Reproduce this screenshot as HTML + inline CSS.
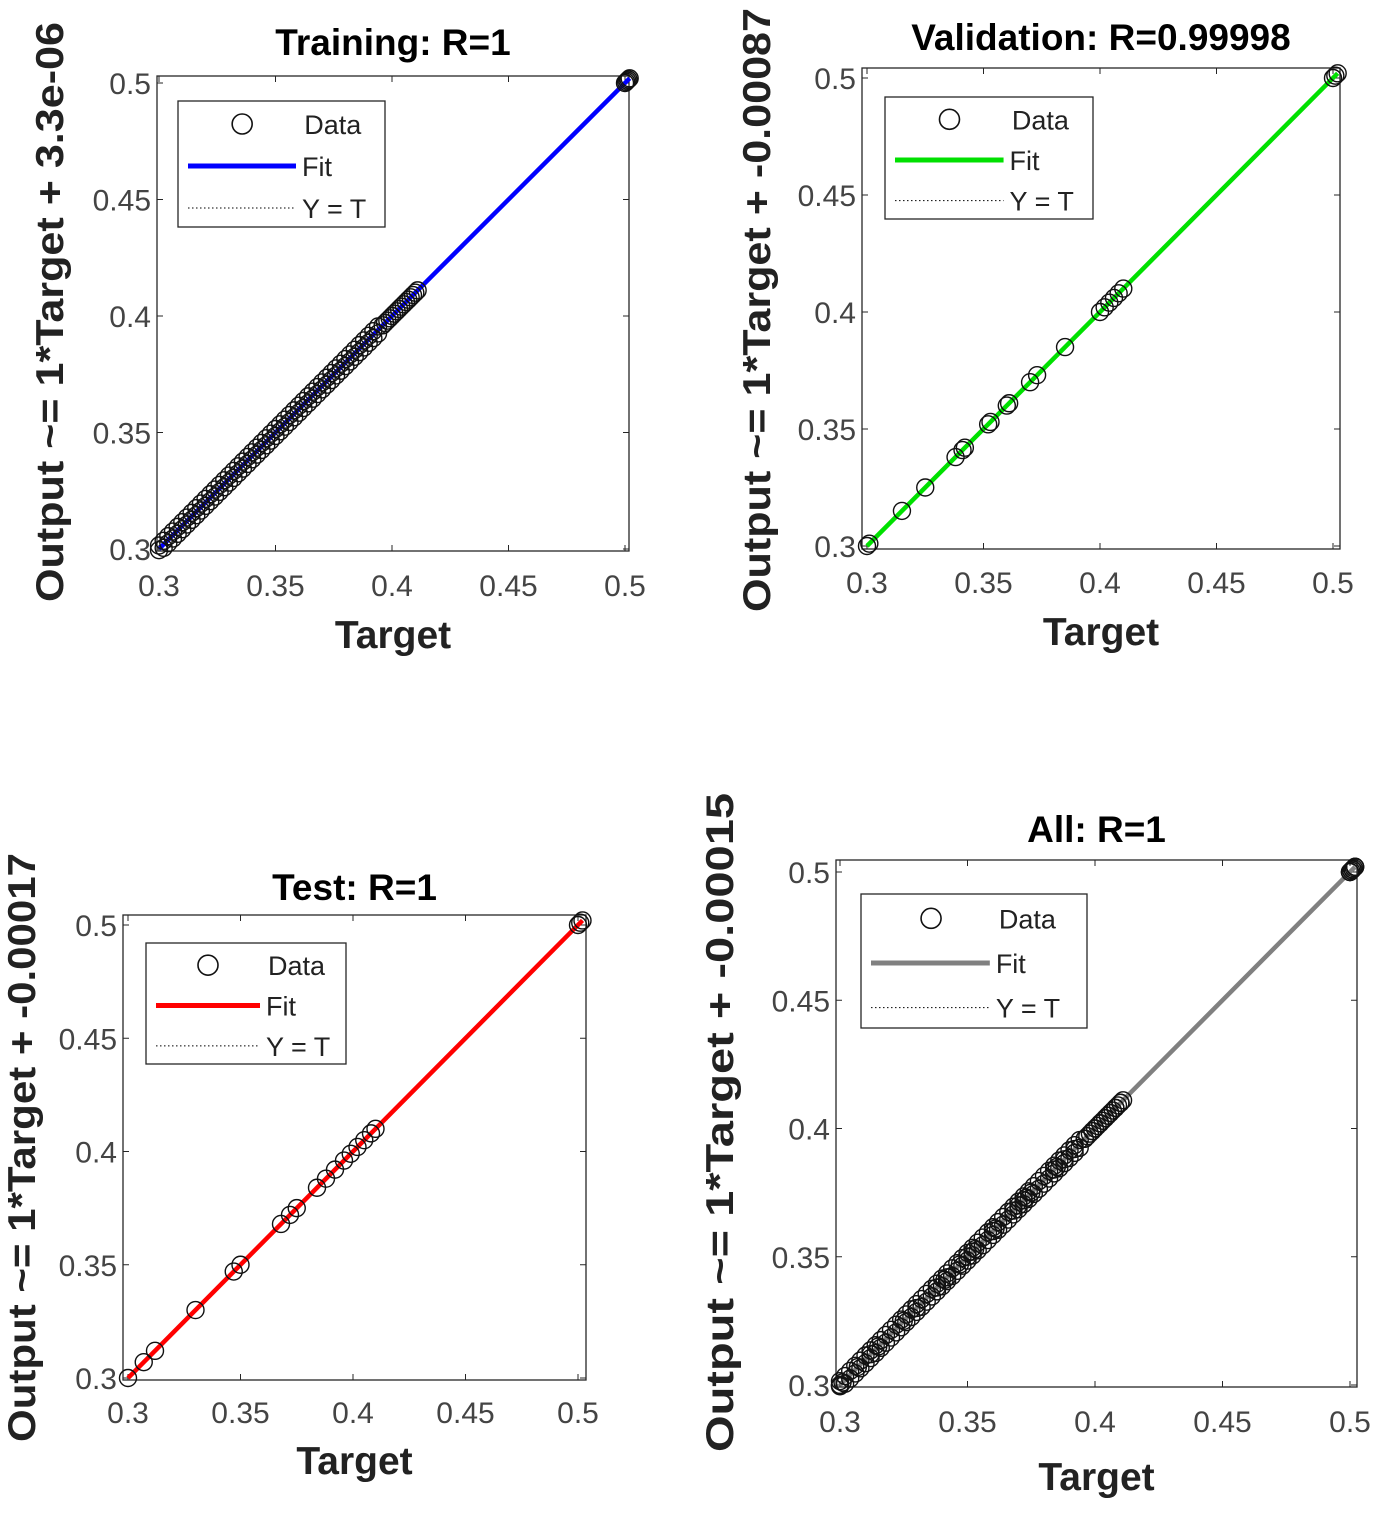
<!DOCTYPE html>
<html><head><meta charset="utf-8"><style>
html,body{margin:0;padding:0;background:#fff}
svg text{font-family:"Liberation Sans",Arial,sans-serif}
</style></head><body>
<svg id="fig" width="1379" height="1511" viewBox="0 0 1379 1511" xmlns="http://www.w3.org/2000/svg"></svg>
<script>
// ---- data ----
const xTicks = [0.3, 0.35, 0.4, 0.45, 0.5];
const xTickLabels = ["0.3", "0.35", "0.4", "0.45", "0.5"];
const yTicks = [0.3, 0.35, 0.4, 0.45, 0.5];
const yTickLabels = ["0.3", "0.35", "0.4", "0.45", "0.5"];
const trainTargets = [
0.300,0.302,0.304,0.306,0.308,0.310,0.312,0.314,0.316,0.318,0.320,0.322,0.324,0.326,0.328,0.330,0.332,0.334,0.336,0.338,0.340,0.342,0.344,0.346,0.348,0.350,0.352,0.354,0.356,0.358,0.360,0.362,0.364,0.366,0.368,0.370,0.372,0.374,0.376,0.378,0.380,0.382,0.384,0.386,0.388,0.390,0.392,0.394,
0.300,0.302,0.304,0.306,0.308,0.310,0.312,0.314,0.316,0.318,0.320,0.322,0.324,0.326,0.328,0.330,0.332,0.334,0.336,0.338,0.340,0.342,0.344,0.346,0.348,0.350,0.352,0.354,0.356,0.358,0.360,0.362,0.364,0.366,0.368,0.370,0.372,0.374,0.376,0.378,0.380,0.382,0.384,0.386,0.388,0.390,0.392,0.394,
0.396,0.397,0.398,0.399,0.400,0.401,0.402,0.403,0.404,0.405,0.406,0.407,0.408,0.409,0.410,0.411,
0.500,0.5005,0.501,0.5015,0.502];
const trainOutputs = [
0.3015,0.3035,0.3055,0.3075,0.3095,0.3115,0.3135,0.3155,0.3175,0.3195,0.3215,0.3235,0.3255,0.3275,0.3295,0.3315,0.3335,0.3355,0.3375,0.3395,0.3415,0.3435,0.3455,0.3475,0.3495,0.3515,0.3535,0.3555,0.3575,0.3595,0.3615,0.3635,0.3655,0.3675,0.3695,0.3715,0.3735,0.3755,0.3775,0.3795,0.3815,0.3835,0.3855,0.3875,0.3895,0.3915,0.3935,0.3955,
0.2995,0.3005,0.3025,0.3045,0.3065,0.3085,0.3105,0.3125,0.3145,0.3165,0.3185,0.3205,0.3225,0.3245,0.3265,0.3285,0.3305,0.3325,0.3345,0.3365,0.3385,0.3405,0.3425,0.3445,0.3465,0.3485,0.3505,0.3525,0.3545,0.3565,0.3585,0.3605,0.3625,0.3645,0.3665,0.3685,0.3705,0.3725,0.3745,0.3765,0.3785,0.3805,0.3825,0.3845,0.3865,0.3885,0.3905,0.3925,
0.396,0.397,0.398,0.399,0.400,0.401,0.402,0.403,0.404,0.405,0.406,0.407,0.408,0.409,0.410,0.411,
0.500,0.5005,0.501,0.5015,0.502];
const valTargets = [0.300,0.301,0.315,0.325,0.338,0.341,0.342,0.352,0.353,0.360,0.361,0.370,0.373,0.385,0.400,0.402,0.404,0.406,0.408,0.410,0.500,0.501,0.502];
const valOutputs = [0.300,0.301,0.315,0.325,0.338,0.341,0.342,0.352,0.353,0.360,0.361,0.370,0.373,0.385,0.400,0.402,0.404,0.406,0.408,0.410,0.500,0.501,0.502];
const testTargets = [0.300,0.307,0.312,0.330,0.347,0.350,0.368,0.372,0.375,0.384,0.388,0.392,0.396,0.399,0.402,0.405,0.408,0.410,0.500,0.501,0.502];
const testOutputs = [0.300,0.307,0.312,0.330,0.347,0.350,0.368,0.372,0.375,0.384,0.388,0.392,0.396,0.399,0.402,0.405,0.408,0.410,0.500,0.501,0.502];
const allTargets = trainTargets.concat(valTargets, testTargets);
const allOutputs = trainOutputs.concat(valOutputs, testOutputs);

const panels = [
 {key:"training", title:"Training: R=1", ylab:"Output ~= 1*Target + 3.3e-06", color:"#0000ff", x0:159, x1:625, y0:549, y1:83, box:[157,76,629,551], titleY:55, tickLabY:596, xlabY:648, ylabX:50, ylabTop:22, ylabBot:602, leg:[178,101,207,126], xs:trainTargets, ys:trainOutputs},
 {key:"validation", title:"Validation: R=0.99998", ylab:"Output ~= 1*Target + -0.00087", color:"#00e000", x0:867, x1:1333, y0:546, y1:78, box:[862,68,1340,549], titleY:50, tickLabY:593, xlabY:645, ylabX:757, ylabTop:8, ylabBot:612, leg:[885,97,208,122], xs:valTargets, ys:valOutputs},
 {key:"test", title:"Test: R=1", ylab:"Output ~= 1*Target + -0.00017", color:"#ff0000", x0:128, x1:578, y0:1378, y1:925, box:[123,915,586,1380], titleY:900, tickLabY:1423, xlabY:1474, ylabX:22, ylabTop:853, ylabBot:1442, leg:[146,943,200,121], xs:testTargets, ys:testOutputs},
 {key:"all", title:"All: R=1", ylab:"Output ~= 1*Target + -0.00015", color:"#808080", x0:840, x1:1350, y0:1385, y1:872, box:[836,860,1357,1387], titleY:842, tickLabY:1432, xlabY:1490, ylabX:720, ylabTop:793, ylabBot:1452, leg:[861,894,226,134], xs:allTargets, ys:allOutputs}
];

const NS = "http://www.w3.org/2000/svg";
const fig = document.getElementById("fig");
function mk(tag, attrs, parent){const e=document.createElementNS(NS,tag);for(const k in attrs)e.setAttribute(k,attrs[k]);(parent||fig).appendChild(e);return e;}

panels.forEach(p=>{
  const g = mk("g",{});
  
  
  const sx = v => p.x0 + (v-0.3)/0.2*(p.x1-p.x0);
  const sy = v => p.y0 + (v-0.3)/0.2*(p.y1-p.y0);
  const [bl,bt,br,bb] = p.box;
  const box = mk("rect",{x:bl,y:bt,width:br-bl,height:bb-bt,fill:"#fff",stroke:"#262626","stroke-width":1.3},g);
  
  
  xTicks.forEach((t,i)=>{
    const x=sx(t);
    mk("line",{x1:x,y1:bb,x2:x,y2:bb-6,stroke:"#262626","stroke-width":1},g);
    mk("line",{x1:x,y1:bt,x2:x,y2:bt+6,stroke:"#262626","stroke-width":1},g);
    const tl=mk("text",{x:x,y:p.tickLabY,"font-size":30,"text-anchor":"middle",fill:"#444"},g);
    tl.textContent=xTickLabels[i];
    
    
  });
  yTicks.forEach((t,i)=>{
    const y=sy(t);
    mk("line",{x1:bl,y1:y,x2:bl+6,y2:y,stroke:"#262626","stroke-width":1},g);
    mk("line",{x1:br,y1:y,x2:br-6,y2:y,stroke:"#262626","stroke-width":1},g);
    const tl=mk("text",{x:bl-6,y:y+11,"font-size":30,"text-anchor":"end",fill:"#444"},g);
    tl.textContent=yTickLabels[i];
    
    
  });
  const yt=mk("line",{x1:sx(0.3),y1:sy(0.3),x2:sx(0.502),y2:sy(0.502),stroke:"#000","stroke-width":1,"stroke-dasharray":"1.5 2.5"},g);
  
  
  const fl=mk("line",{x1:sx(0.3),y1:sy(0.3),x2:sx(0.502),y2:sy(0.502),stroke:p.color,"stroke-width":4.5},g);
  
  
  p.xs.forEach((t,i)=>{
    const c=mk("circle",{cx:sx(t),cy:sy(p.ys[i]),r:8.5,fill:"none",stroke:"#111","stroke-width":1.4},g);
    
    
  });
  const ti=mk("text",{x:(bl+br)/2,y:p.titleY,"font-size":37,"font-weight":"bold","text-anchor":"middle",fill:"#000"},g);
  ti.textContent=p.title;
  
  
  const xl=mk("text",{x:(bl+br)/2,y:p.xlabY,"font-size":39,"font-weight":"bold","text-anchor":"middle",fill:"#222"},g);
  xl.textContent="Target";
  
  
  const len=p.ylabBot-p.ylabTop, cy=(p.ylabTop+p.ylabBot)/2;
  const yl=mk("text",{x:p.ylabX,y:cy+13,"font-size":39,"font-weight":"bold","text-anchor":"middle",fill:"#222",transform:`rotate(-90 ${p.ylabX} ${cy})`,textLength:len,lengthAdjust:"spacingAndGlyphs"},g);
  yl.textContent=p.ylab;
  
  
  const [lx,ly,lw,lh]=p.leg;
  const lg=mk("g",{},g);
  
  
  mk("rect",{x:lx,y:ly,width:lw,height:lh,fill:"#fff",stroke:"#262626","stroke-width":1.3},lg);
  const row=lh/3, lineEnd=lx+lw*0.57;
  mk("circle",{cx:lx+lw*0.31,cy:ly+row*0.5+2,r:10,fill:"none",stroke:"#111","stroke-width":1.6},lg);
  mk("line",{x1:lx+10,y1:ly+row*1.5+2,x2:lineEnd,y2:ly+row*1.5+2,stroke:p.color,"stroke-width":5},lg);
  mk("line",{x1:lx+10,y1:ly+row*2.5+2,x2:lineEnd,y2:ly+row*2.5+2,stroke:"#000","stroke-width":1,"stroke-dasharray":"1.5 2.5"},lg);
  const labs=["Data","Fit","Y = T"];
  labs.forEach((s,i)=>{
    const tx=mk("text",{x:i===0?lx+lw*0.61:lineEnd+6,y:ly+row*(i+0.5)+12,"font-size":27,fill:"#222"},lg);
    tx.textContent=s;
    
    
  });
});
</script>
</body></html>
